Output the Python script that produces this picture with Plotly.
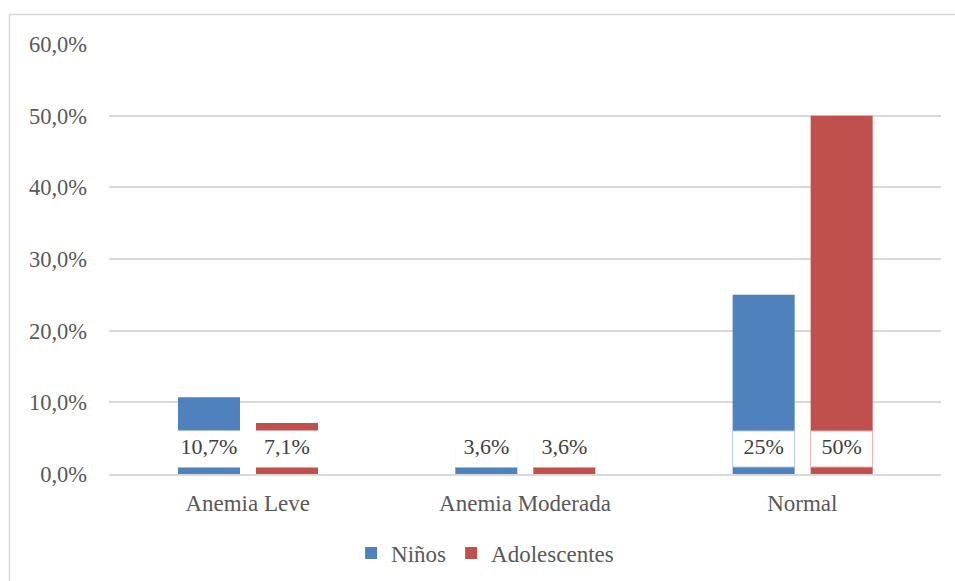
import plotly.graph_objects as go

# Prevalence of anaemia by age group (%)
categories = ["Anemia Leve", "Anemia Moderada", "Normal"]
ninos = [10.7, 3.6, 25.0]
adolescentes = [7.1, 3.6, 50.0]
ninos_labels = ["10,7%", "3,6%", "25%"]
adolescentes_labels = ["7,1%", "3,6%", "50%"]
y_ticks = [0, 10, 20, 30, 40, 50, 60]
y_tick_labels = ["0,0%", "10,0%", "20,0%", "30,0%", "40,0%", "50,0%", "60,0%"]

BLUE = "#4F81BD"
RED = "#C0504D"
TEXT = "#595959"
GRID = "#D9D9D9"
FONT = "Liberation Serif, Times New Roman, serif"

# bar geometry in category units
BAR_W = 0.2236
OFFSETS = {"Niños": -0.2513, "Adolescentes": 0.030}
# white label box drawn over the base of each bar
BOX_BASE = 0.98
BOX_TOP = 6.0

x_idx = list(range(len(categories)))

fig = go.Figure()

series = [
    ("Niños", ninos, ninos_labels, BLUE, "#B9CDE5"),
    ("Adolescentes", adolescentes, adolescentes_labels, RED, "#E6B9B8"),
]

for name, vals, labels, color, edge in series:
    off = OFFSETS[name]
    fig.add_trace(go.Bar(
        x=x_idx, y=vals, name=name, width=BAR_W, offset=off,
        marker=dict(color=color, line=dict(width=0)),
        hoverinfo="skip",
    ))

for name, vals, labels, color, edge in series:
    off = OFFSETS[name]
    # label boxes: outlined only where they sit inside a taller bar
    line_c = [edge if v > BOX_TOP + 5 else "white" for v in vals]
    fig.add_trace(go.Bar(
        x=x_idx, y=[BOX_TOP - BOX_BASE] * len(vals), base=BOX_BASE,
        width=BAR_W, offset=off, showlegend=False,
        marker=dict(color="white", line=dict(width=1, color=line_c)),
        hoverinfo="skip",
    ))
    fig.add_trace(go.Scatter(
        x=[i + off + BAR_W / 2 for i in x_idx],
        y=[(BOX_BASE + BOX_TOP) / 2] * len(vals),
        mode="text", text=labels, showlegend=False,
        textfont=dict(family=FONT, size=22, color="#404040"),
        hoverinfo="skip",
    ))

fig.update_layout(
    width=955, height=581,
    barmode="overlay",
    paper_bgcolor="white", plot_bgcolor="white",
    margin=dict(l=109, r=14, t=44, b=107, autoexpand=False),
    font=dict(family=FONT, size=23, color=TEXT),
    xaxis=dict(
        range=[-0.5, 2.5], tickvals=x_idx, ticktext=categories,
        showgrid=False, zeroline=False, showline=True, linecolor=GRID,
        linewidth=1.5, ticks="", ticklabelstandoff=8,
        tickfont=dict(family=FONT, size=23, color=TEXT), fixedrange=True,
    ),
    yaxis=dict(
        range=[0, 60], tickvals=y_ticks, ticktext=y_tick_labels,
        showgrid=True, gridcolor=GRID, gridwidth=1.5, zeroline=False,
        showline=False, ticks="", ticklabelstandoff=21,
        tickfont=dict(family=FONT, size=22.5, color=TEXT), fixedrange=True,
    ),
    legend=dict(
        orientation="h", x=0.291, xanchor="left", y=-0.184, yanchor="middle",
        font=dict(family=FONT, size=23, color=TEXT),
        itemwidth=30, tracegroupgap=0, bgcolor="rgba(0,0,0,0)",
    ),
    shapes=[
        dict(type="rect", xref="paper", yref="paper",
             x0=-0.1196, x1=1.05, y0=-0.5, y1=1.0686,
             line=dict(color=GRID, width=1.5), fillcolor="rgba(0,0,0,0)",
             layer="below"),
    ],
)

fig.write_html("out.html")
